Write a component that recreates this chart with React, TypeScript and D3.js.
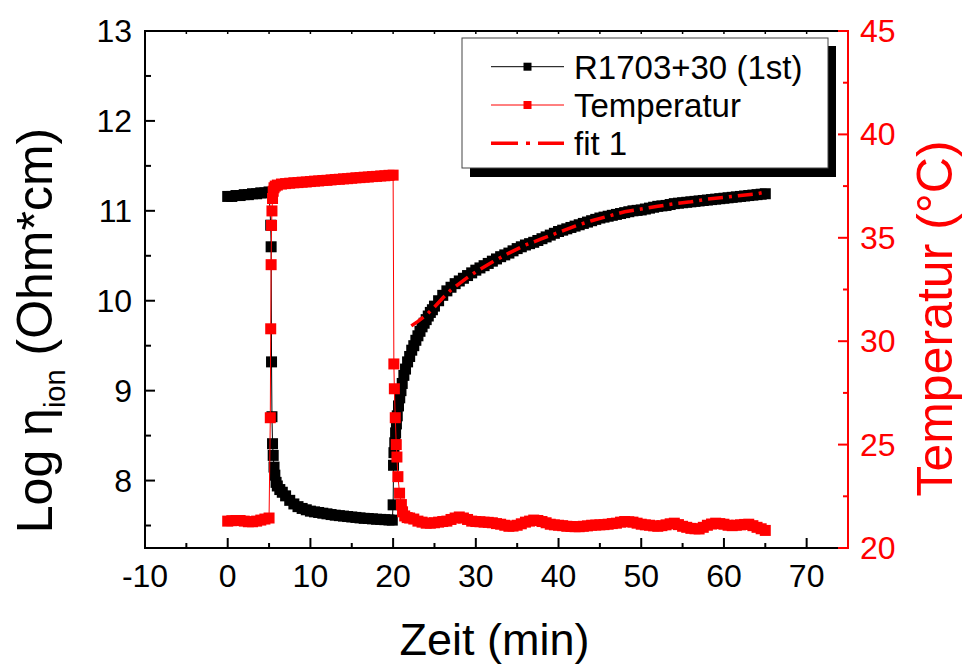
import React from "react";
import * as d3 from "d3";

// ---------- data ----------
const xTickValues = [-10, 0, 10, 20, 30, 40, 50, 60, 70];
const leftTickValues = [8, 9, 10, 11, 12, 13];
const rightTickValues = [20, 25, 30, 35, 40, 45];

// R1703+30 (1st): [time (min), log eta]
const resistanceSeries: [number, number][] = [
  [0, 11.16], [0.5, 11.16], [1, 11.17], [1.5, 11.17], [2, 11.18], [2.5, 11.18], [3, 11.19], [3.5, 11.19], [4, 11.2], [4.5, 11.2], [5, 11.21],
  [5.2, 10.84], [5.25, 10.6], [5.3, 9.32], [5.35, 8.71], [5.42, 8.41], [5.5, 8.28], [5.6, 8.15], [5.7, 8.06], [5.85, 7.98], [6, 7.94],
  [6.3, 7.9], [6.6, 7.87], [7, 7.83], [7.5, 7.78], [8, 7.74], [8.5, 7.71], [9, 7.69], [9.5, 7.675], [10, 7.66], [10.5, 7.652],
  [11, 7.645], [11.5, 7.637], [12, 7.63], [12.5, 7.622], [13, 7.615], [13.5, 7.61], [14, 7.605], [14.5, 7.6], [15, 7.595], [15.5, 7.59],
  [16, 7.585], [16.5, 7.58], [17, 7.578], [17.5, 7.574], [18, 7.57], [18.5, 7.568], [19, 7.565], [19.5, 7.562], [19.9, 7.56],
  [20, 7.73], [20.05, 8.17], [20.1, 8.31], [20.2, 8.42], [20.3, 8.53], [20.4, 8.63], [20.5, 8.72], [20.65, 8.83], [20.8, 8.92],
  [20.95, 9.0], [21.1, 9.08], [21.3, 9.17], [21.5, 9.24], [21.75, 9.32], [22, 9.38], [22.25, 9.45], [22.5, 9.5], [22.75, 9.56],
  [23, 9.61], [23.25, 9.66], [23.5, 9.71], [23.75, 9.75], [24, 9.79], [24.25, 9.83], [24.5, 9.87], [24.75, 9.9], [25, 9.94],
  [25.5, 10.0], [26, 10.06], [26.5, 10.11], [27, 10.15], [27.5, 10.19], [28, 10.22], [28.5, 10.25], [29, 10.28], [29.5, 10.31],
  [30, 10.34], [30.5, 10.365], [31, 10.39], [31.5, 10.415], [32, 10.44], [32.5, 10.465], [33, 10.49], [33.5, 10.51], [34, 10.53],
  [34.5, 10.555], [35, 10.58], [35.5, 10.6], [36, 10.62], [36.5, 10.635], [37, 10.65], [37.5, 10.67], [38, 10.69], [38.5, 10.71],
  [39, 10.73], [39.5, 10.75], [40, 10.77], [40.5, 10.785], [41, 10.8], [41.5, 10.815], [42, 10.83], [42.5, 10.845], [43, 10.86],
  [43.5, 10.875], [44, 10.89], [44.5, 10.905], [45, 10.92], [45.5, 10.93], [46, 10.94], [46.5, 10.95], [47, 10.96], [47.5, 10.97],
  [48, 10.98], [48.5, 10.99], [49, 11.0], [49.5, 11.005], [50, 11.01], [50.5, 11.02], [51, 11.03], [51.5, 11.04], [52, 11.05],
  [52.5, 11.055], [53, 11.06], [53.5, 11.07], [54, 11.08], [54.5, 11.085], [55, 11.09], [55.5, 11.095], [56, 11.1], [56.5, 11.105],
  [57, 11.11], [57.5, 11.115], [58, 11.12], [58.5, 11.125], [59, 11.13], [59.5, 11.135], [60, 11.14], [60.5, 11.145], [61, 11.15],
  [61.5, 11.155], [62, 11.16], [62.5, 11.165], [63, 11.17], [63.5, 11.175], [64, 11.18], [64.5, 11.185], [65, 11.19],
];

// Temperatur: [time (min), °C]
const temperatureSeries: [number, number][] = [
  [0, 21.3], [0.5, 21.32], [1, 21.33], [1.5, 21.33], [2, 21.3], [2.5, 21.27], [3, 21.27], [3.5, 21.3], [4, 21.35], [4.5, 21.4], [5, 21.45],
  [5.15, 26.3], [5.2, 30.6], [5.25, 33.7], [5.3, 35.6], [5.35, 36.3], [5.42, 36.9], [5.5, 37.25], [5.6, 37.42], [5.75, 37.5], [6, 37.55],
  [6.5, 37.6], [7, 37.62], [7.5, 37.64], [8, 37.66], [8.5, 37.67], [9, 37.69], [9.5, 37.7], [10, 37.72], [10.5, 37.74], [11, 37.75],
  [11.5, 37.77], [12, 37.78], [12.5, 37.8], [13, 37.82], [13.5, 37.83], [14, 37.85], [14.5, 37.86], [15, 37.88], [15.5, 37.9], [16, 37.91],
  [16.5, 37.93], [17, 37.94], [17.5, 37.96], [18, 37.97], [18.5, 37.99], [19, 38.0], [19.5, 38.02], [20, 38.03],
  [20.09, 28.9], [20.15, 27.7], [20.26, 26.3], [20.38, 25.0], [20.46, 24.4], [20.58, 23.45], [20.78, 22.65], [21, 22.1], [21.14, 21.75],
  [21.4, 21.55], [21.7, 21.47], [22, 21.45], [22.5, 21.4], [23, 21.3], [23.5, 21.25], [24, 21.2], [24.5, 21.2], [25, 21.22], [25.5, 21.25],
  [26, 21.28], [26.5, 21.3], [27, 21.38], [27.5, 21.45], [28, 21.5], [28.5, 21.45], [29, 21.38], [29.5, 21.3], [30, 21.28],
  [30.5, 21.27], [31, 21.25], [31.5, 21.24], [32, 21.22], [32.5, 21.18], [33, 21.15], [33.5, 21.1], [34, 21.05], [34.5, 21.06],
  [35, 21.1], [35.5, 21.17], [36, 21.25], [36.5, 21.3], [37, 21.35], [37.5, 21.33], [38, 21.28], [38.5, 21.22], [39, 21.15],
  [39.5, 21.12], [40, 21.1], [40.5, 21.08], [41, 21.05], [41.5, 21.04], [42, 21.03], [42.5, 21.03], [43, 21.05], [43.5, 21.07],
  [44, 21.1], [44.5, 21.11], [45, 21.12], [45.5, 21.13], [46, 21.15], [46.5, 21.18], [47, 21.2], [47.5, 21.25], [48, 21.28],
  [48.5, 21.27], [49, 21.25], [49.5, 21.2], [50, 21.15], [50.5, 21.12], [51, 21.1], [51.5, 21.07], [52, 21.05], [52.5, 21.08],
  [53, 21.12], [53.5, 21.17], [54, 21.2], [54.5, 21.13], [55, 21.05], [55.5, 21.0], [56, 20.95], [56.5, 20.93], [57, 20.92],
  [57.5, 21.0], [58, 21.1], [58.5, 21.16], [59, 21.2], [59.5, 21.18], [60, 21.15], [60.5, 21.1], [61, 21.08], [61.5, 21.1],
  [62, 21.12], [62.5, 21.14], [63, 21.15], [63.5, 21.08], [64, 21.0], [64.5, 20.93], [65, 20.85],
];

// fit 1: [time (min), log eta]
const fitSeries: [number, number][] = [
  [22.2, 9.72], [23, 9.77], [24, 9.84], [25, 9.93], [26, 10.03], [27, 10.12], [28, 10.19], [29, 10.26], [30, 10.32], [32, 10.43],
  [34, 10.53], [36, 10.62], [38, 10.69], [40, 10.76], [42, 10.83], [44, 10.89], [46, 10.94], [48, 10.99], [50, 11.02], [52, 11.05],
  [54, 11.08], [56, 11.1], [58, 11.13], [60, 11.15], [62, 11.17], [64, 11.19], [65.1, 11.21],
];

const legendLabels = ["R1703+30 (1st)", "Temperatur", "fit 1"];

// ---------- layout ----------
const W = 964;
const H = 664;
const L = 145, R = 848, T = 31, B = 548;
const FONT = "'Liberation Sans', Arial, Helvetica, sans-serif";
const RED = "#ff0000";

export default function App() {
  const x = d3.scaleLinear().domain([-10, 75]).range([L, R]);
  const yL = d3.scaleLinear().domain([7.25, 13]).range([B, T]);
  const yR = d3.scaleLinear().domain([20, 45]).range([B, T]);

  const lineL = d3.line<[number, number]>().x((d) => x(d[0])).y((d) => yL(d[1]));
  const lineR = d3.line<[number, number]>().x((d) => x(d[0])).y((d) => yR(d[1]));

  const xMinor = d3.range(-5, 71, 10);
  const topTicks = d3.range(-5, 71, 5);
  const leftMinor = d3.range(7.5, 13, 1);
  const rightMinor = d3.range(22.5, 45, 5);

  const ms = 11;

  const legendRows = [66.7, 105, 143.3];

  return (
    <svg
      width={W}
      height={H}
      style={{ position: "absolute", left: 0, top: 0, background: "#fff" }}
      fontFamily={FONT}
    >
      <rect x={0} y={0} width={W} height={H} fill="#fff" />

      {/* series: resistance */}
      <path d={lineL(resistanceSeries) || ""} fill="none" stroke="#000" strokeWidth={1} />
      {resistanceSeries.map((d, i) => (
        <rect key={"b" + i} x={x(d[0]) - ms / 2} y={yL(d[1]) - ms / 2} width={ms} height={ms} fill="#000" />
      ))}

      {/* series: temperature */}
      <path d={lineR(temperatureSeries) || ""} fill="none" stroke={RED} strokeWidth={1} />
      {temperatureSeries.map((d, i) => (
        <rect key={"r" + i} x={x(d[0]) - ms / 2} y={yR(d[1]) - ms / 2} width={ms} height={ms} fill={RED} />
      ))}

      {/* fit */}
      <path
        d={lineL(fitSeries) || ""}
        fill="none"
        stroke={RED}
        strokeWidth={3.5}
        strokeDasharray="15,6,3,6"
      />

      {/* axes frame */}
      <line x1={L} y1={T} x2={R} y2={T} stroke="#000" strokeWidth={2} />
      <line x1={L} y1={B} x2={R} y2={B} stroke="#000" strokeWidth={2} />
      <line x1={L} y1={T - 1} x2={L} y2={B + 1} stroke="#000" strokeWidth={2} />
      <line x1={R} y1={T - 1} x2={R} y2={B + 1} stroke={RED} strokeWidth={2} />

      {/* bottom ticks */}
      {xTickValues.map((v) => (
        <g key={"xt" + v}>
          <line x1={x(v)} x2={x(v)} y1={B} y2={B - 10} stroke="#000" strokeWidth={2} />
          <text x={x(v)} y={587} fontSize={32} textAnchor="middle" fill="#000">
            {String(v)}
          </text>
        </g>
      ))}
      {xMinor.map((v) => (
        <line key={"xm" + v} x1={x(v)} x2={x(v)} y1={B} y2={B - 5} stroke="#000" strokeWidth={2} />
      ))}
      {/* top ticks */}
      {topTicks.map((v) => (
        <line key={"tt" + v} x1={x(v)} x2={x(v)} y1={T} y2={T + 3} stroke="#000" strokeWidth={1.5} />
      ))}

      {/* left ticks */}
      {leftTickValues.map((v) => (
        <g key={"lt" + v}>
          <line x1={L} x2={L + 10} y1={yL(v)} y2={yL(v)} stroke="#000" strokeWidth={2} />
          <text x={132} y={yL(v) + 11} fontSize={32} textAnchor="end" fill="#000">
            {String(v)}
          </text>
        </g>
      ))}
      {leftMinor.map((v) => (
        <line key={"lm" + v} x1={L} x2={L + 6} y1={yL(v)} y2={yL(v)} stroke="#000" strokeWidth={2} />
      ))}

      {/* right ticks */}
      {rightTickValues.map((v) => (
        <g key={"rt" + v}>
          <line x1={R} x2={R - 10} y1={yR(v)} y2={yR(v)} stroke={RED} strokeWidth={2} />
          <text x={860} y={yR(v) + 11} fontSize={32} textAnchor="start" fill={RED}>
            {String(v)}
          </text>
        </g>
      ))}
      {rightMinor.map((v) => (
        <line key={"rm" + v} x1={R} x2={R - 5} y1={yR(v)} y2={yR(v)} stroke={RED} strokeWidth={2} />
      ))}

      {/* axis titles */}
      <text x={494.5} y={655} fontSize={45} textAnchor="middle" fill="#000">
        Zeit (min)
      </text>
      <text
        transform="translate(52,330.5) rotate(-90)"
        fontSize={50}
        textAnchor="middle"
        fill="#000"
        style={{ whiteSpace: "pre" }}
      >
        {"Log η"}
        <tspan fontSize={29} dy={13}>
          ion
        </tspan>
        <tspan dy={-13}>{" (Ohm*cm)"}</tspan>
      </text>
      <text transform="translate(952,318.5) rotate(-90)" fontSize={50} textAnchor="middle" fill={RED}>
        Temperatur (°C)
      </text>

      {/* legend */}
      <rect x={470} y={46} width={366} height={131} fill="#000" />
      <rect x={462} y={38} width={366} height={130} fill="#fff" stroke="#444" strokeWidth={1} />
      {/* row 1 */}
      <line x1={491} x2={564} y1={legendRows[0]} y2={legendRows[0]} stroke="#000" strokeWidth={1} />
      <rect x={527.5 - 4} y={legendRows[0] - 4} width={8} height={8} fill="#000" />
      {/* row 2 */}
      <line x1={491} x2={564} y1={legendRows[1]} y2={legendRows[1]} stroke={RED} strokeWidth={1} />
      <rect x={527.5 - 4} y={legendRows[1] - 4} width={8} height={8} fill={RED} />
      {/* row 3 */}
      <line
        x1={491}
        x2={564}
        y1={legendRows[2]}
        y2={legendRows[2]}
        stroke={RED}
        strokeWidth={3.5}
        strokeDasharray="27,8,4,8"
      />
      {legendLabels.map((s, i) => (
        <text key={"lg" + i} x={574} y={legendRows[i] + 12} fontSize={33} fill="#000">
          {s}
        </text>
      ))}
    </svg>
  );
}
